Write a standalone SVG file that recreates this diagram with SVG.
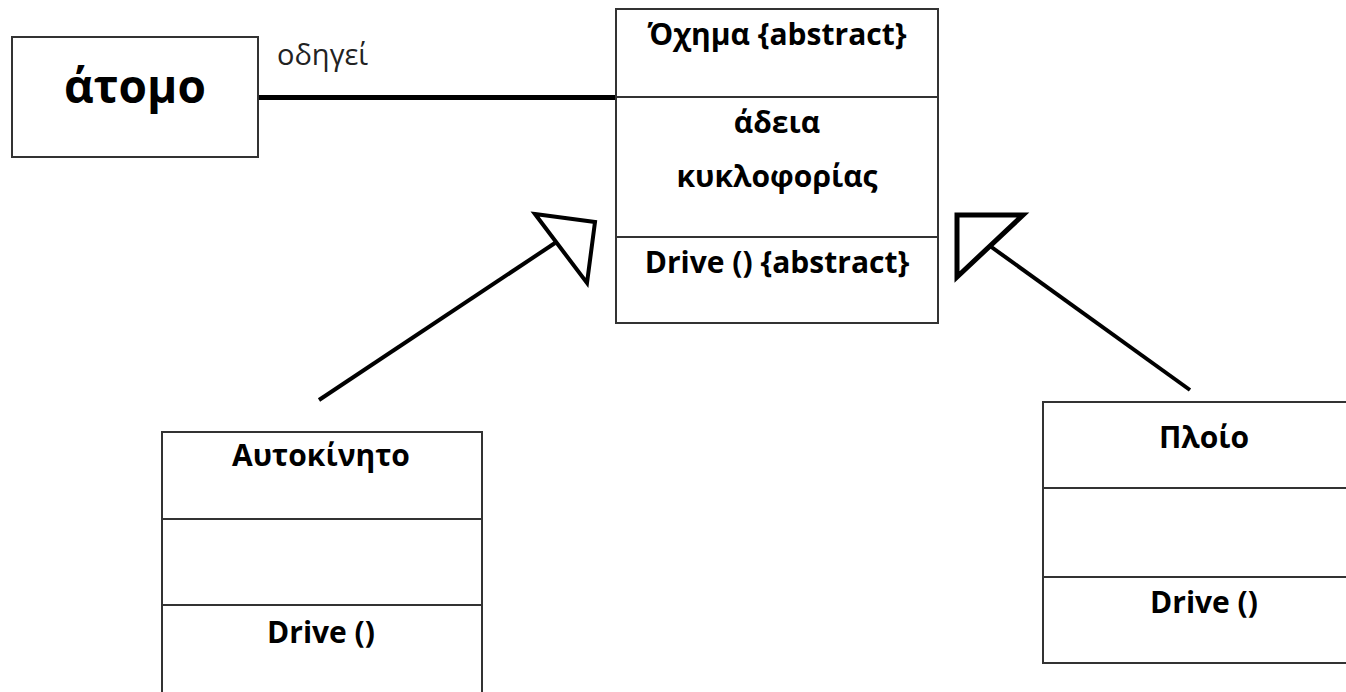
<svg xmlns="http://www.w3.org/2000/svg" width="1346" height="692" viewBox="0 0 1346 692">
<style>
.box{fill:#fff;stroke:#333;stroke-width:2}
.div{stroke:#333;stroke-width:2;fill:none}
.t{font-family:"Open Sans","Noto Sans","Liberation Sans",sans-serif;font-weight:bold;font-size:30px;fill:#000;text-anchor:middle}
.big{font-size:46px}
.lbl{font-family:"Open Sans","Noto Sans","Liberation Sans",sans-serif;font-size:29px;fill:#222}
.conn{stroke:#000;fill:none;stroke-linejoin:miter}
</style>
<rect width="1346" height="692" fill="#fff"/>
<g id="connectors">
<line class="conn" x1="258" y1="97.5" x2="623" y2="97.5" stroke-width="5"/>
<text class="lbl" x="277" y="65">οδηγεί</text>
<line class="conn" x1="319" y1="400" x2="555" y2="243" stroke-width="4"/>
<polygon class="conn" points="535,214 595,222 587,283" stroke-width="4"/>
<line class="conn" x1="1190" y1="390" x2="990" y2="246" stroke-width="4"/>
<polygon class="conn" points="957,215 1023,215 957,277" stroke-width="5"/>
</g>
<g id="atomo">
<rect class="box" x="12" y="37" width="246" height="120"/>
<text class="t big" x="135" y="103">άτομο</text>
</g>
<g id="ochima">
<rect class="box" x="616" y="9" width="322" height="314"/>
<line class="div" x1="616" y1="97" x2="938" y2="97"/>
<line class="div" x1="616" y1="237" x2="938" y2="237"/>
<text class="t" x="777" y="45">Όχημα {abstract}</text>
<text class="t" x="777" y="133">άδεια</text>
<text class="t" x="777" y="187">κυκλοφορίας</text>
<text class="t" x="777" y="273">Drive () {abstract}</text>
</g>
<g id="aftokinito">
<path class="div" d="M162,700 V432 H482 V700"/>
<line class="div" x1="162" y1="519" x2="482" y2="519"/>
<line class="div" x1="162" y1="605" x2="482" y2="605"/>
<text class="t" x="321" y="466">Αυτοκίνητο</text>
<text class="t" x="321" y="643">Drive ()</text>
</g>
<g id="ploio">
<path class="div" d="M1350,402 H1043 V663 H1350"/>
<line class="div" x1="1043" y1="488" x2="1350" y2="488"/>
<line class="div" x1="1043" y1="577" x2="1350" y2="577"/>
<text class="t" x="1204" y="448">Πλοίο</text>
<text class="t" x="1204" y="613">Drive ()</text>
</g>
</svg>
